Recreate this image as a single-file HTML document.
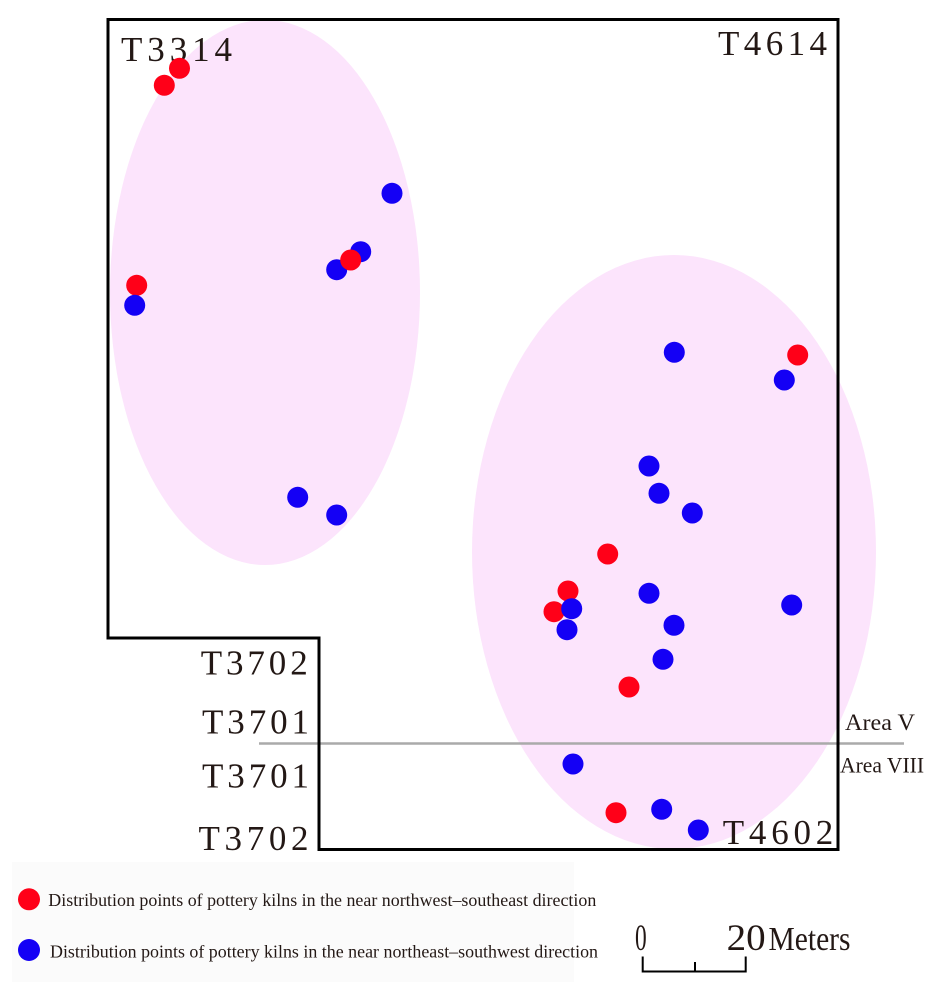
<!DOCTYPE html>
<html>
<head>
<meta charset="utf-8">
<style>
  html,body{margin:0;padding:0;background:#fff;}
  svg{display:block;}
  text{font-family:"Liberation Serif","DejaVu Serif",serif;fill:#231815;}
</style>
</head>
<body>
<svg width="927" height="982" viewBox="0 0 927 982" xmlns="http://www.w3.org/2000/svg">
  <rect x="0" y="0" width="927" height="982" fill="#ffffff"/>
  <!-- legend faint background -->
  <rect x="12" y="862" width="562" height="120" fill="#fbfbfb"/>

  <!-- ellipses -->
  <ellipse cx="265" cy="292.5" rx="155" ry="272.5" fill="#fce4fc"/>
  <ellipse cx="674" cy="552" rx="202" ry="297" fill="#fce4fc"/>

  <!-- area divider line -->
  <line x1="259" y1="743.5" x2="904" y2="743.5" stroke="#aaaaaa" stroke-width="2.5"/>

  <!-- boundary -->
  <path d="M108,19.5 H838 V849.5 H319 V638 H108 Z" fill="none" stroke="#000" stroke-width="3"/>

  <!-- labels -->
  <g font-size="35" fill="#2a2220">
  <text x="121" y="61" textLength="111" lengthAdjust="spacing">T3314</text>
  <text x="718" y="55" textLength="109" lengthAdjust="spacing">T4614</text>
  <text x="200.7" y="674.3" textLength="107" lengthAdjust="spacing">T3702</text>
  <text x="202" y="733.3" textLength="107" lengthAdjust="spacing">T3701</text>
  <text x="202" y="787.7" textLength="107" lengthAdjust="spacing">T3701</text>
  <text x="198.5" y="850" textLength="110" lengthAdjust="spacing">T3702</text>
  <text x="722.7" y="844" textLength="110.6" lengthAdjust="spacing">T4602</text>
  </g>

  <text x="845" y="730" font-size="23" textLength="70" lengthAdjust="spacingAndGlyphs" fill="#000">Area V</text>
  <text x="840" y="772.7" font-size="22" textLength="84" lengthAdjust="spacingAndGlyphs" fill="#000">Area VIII</text>

  <!-- dots -->
  <g>
    <circle cx="179.5" cy="68.3" r="10.5" fill="#ff0018"/>
    <circle cx="164.3" cy="85.3" r="10.5" fill="#ff0018"/>

    <circle cx="392" cy="193.3" r="10.5" fill="#1400f5"/>
    <circle cx="360.7" cy="251.7" r="10.5" fill="#1400f5"/>
    <circle cx="336.7" cy="269.7" r="10.5" fill="#1400f5"/>
    <circle cx="350.7" cy="260" r="10.5" fill="#ff0018"/>

    <circle cx="136.7" cy="285.3" r="10.5" fill="#ff0018"/>
    <circle cx="134.7" cy="305.3" r="10.5" fill="#1400f5"/>

    <circle cx="297.7" cy="497.3" r="10.5" fill="#1400f5"/>
    <circle cx="336.7" cy="515" r="10.5" fill="#1400f5"/>

    <circle cx="674.3" cy="352.3" r="10.5" fill="#1400f5"/>
    <circle cx="797.7" cy="355" r="10.5" fill="#ff0018"/>
    <circle cx="784.3" cy="380" r="10.5" fill="#1400f5"/>
    <circle cx="649" cy="466" r="10.5" fill="#1400f5"/>
    <circle cx="659" cy="493.3" r="10.5" fill="#1400f5"/>
    <circle cx="692.3" cy="513" r="10.5" fill="#1400f5"/>
    <circle cx="607.7" cy="554" r="10.5" fill="#ff0018"/>
    <circle cx="568" cy="591" r="10.5" fill="#ff0018"/>
    <circle cx="554" cy="611.7" r="10.5" fill="#ff0018"/>
    <circle cx="571.7" cy="608.7" r="10.5" fill="#1400f5"/>
    <circle cx="567" cy="629.7" r="10.5" fill="#1400f5"/>
    <circle cx="649" cy="593.3" r="10.5" fill="#1400f5"/>
    <circle cx="674" cy="625.3" r="10.5" fill="#1400f5"/>
    <circle cx="663" cy="659.3" r="10.5" fill="#1400f5"/>
    <circle cx="791.7" cy="605" r="10.5" fill="#1400f5"/>
    <circle cx="629" cy="687" r="10.5" fill="#ff0018"/>
    <circle cx="573" cy="764" r="10.5" fill="#1400f5"/>
    <circle cx="616" cy="812.7" r="10.5" fill="#ff0018"/>
    <circle cx="661.7" cy="809.3" r="10.5" fill="#1400f5"/>
    <circle cx="698.3" cy="830" r="10.5" fill="#1400f5"/>
  </g>

  <!-- legend -->
  <circle cx="29" cy="899.3" r="11" fill="#ff0018"/>
  <circle cx="29" cy="950" r="11" fill="#1400f5"/>
  <text x="48.3" y="906" font-size="18" textLength="548" lengthAdjust="spacingAndGlyphs" fill="#000">Distribution points of pottery kilns in the near northwest–southeast direction</text>
  <text x="50" y="957.3" font-size="18" textLength="548" lengthAdjust="spacingAndGlyphs" fill="#000">Distribution points of pottery kilns in the near northeast–southwest direction</text>

  <!-- scale bar -->
  <text x="635" y="950" font-size="37" textLength="11.7" lengthAdjust="spacingAndGlyphs">0</text>
  <text x="726.7" y="950" font-size="37" textLength="39" lengthAdjust="spacingAndGlyphs">20</text>
  <text x="768.5" y="950" font-size="34" textLength="82" lengthAdjust="spacingAndGlyphs" fill="#000">Meters</text>
  <path d="M642.7,956.5 V971.5 H745.7 V956.5 M695,962 V971.5" fill="none" stroke="#000" stroke-width="2"/>
</svg>
</body>
</html>
